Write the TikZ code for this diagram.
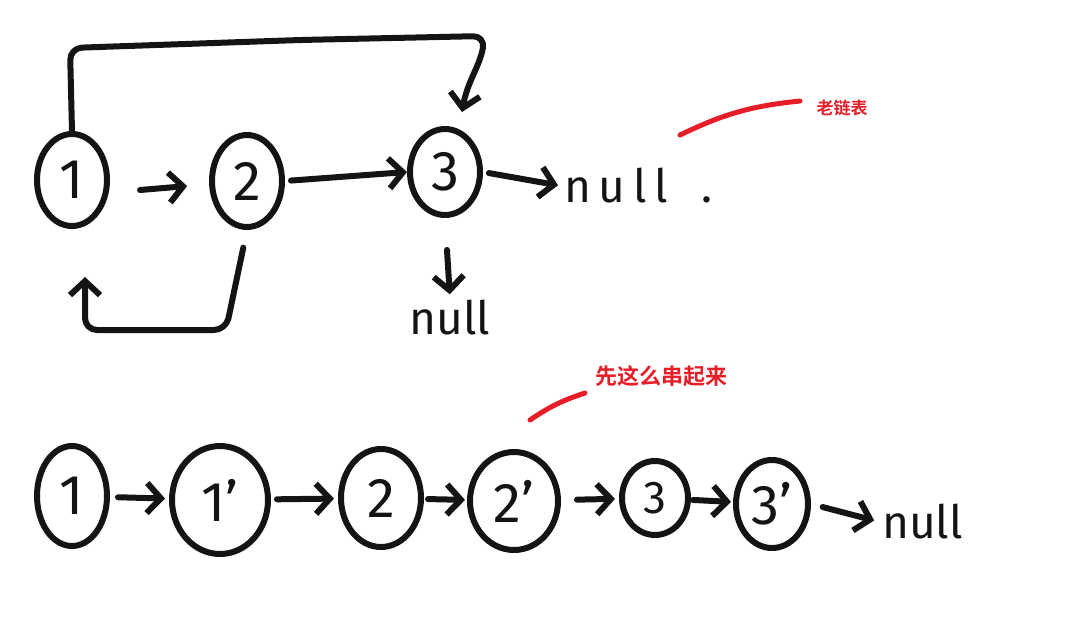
\documentclass[tikz,border=0pt]{standalone}
\usepackage{fontspec}
\setmainfont{Fira Sans}
\newfontfamily\cjk{Noto Sans CJK SC Bold}
\usepackage{xcolor}
\definecolor{ink}{RGB}{ 20,  20,  20}
\definecolor{mark}{RGB}{230,  30,  40}
\usetikzlibrary{shapes.geometric, arrows.meta, positioning}
\tikzset{
  listnode/.style={ellipse, draw=ink, line width=6pt, inner sep=0pt,
    minimum width=70pt, minimum height=92pt,
    font=\fontsize{56}{56}\selectfont, text=ink},
  nulltext/.style={font=\fontsize{46}{46}\selectfont, text=ink, inner sep=2pt},
  link/.style={-{Straight Barb[length=14pt, width=30pt]}, line width=6pt,
    color=ink, line cap=round, line join=round},
  loopline/.style={link, rounded corners=12pt},
  redmark/.style={line width=5pt, color=mark, line cap=round},
  redlabel/.style={font=\cjk\fontsize{17}{17}\selectfont, text=mark, inner sep=1pt}
}
\begin{document}
\begin{tikzpicture}[x=1pt, y=-1pt]
  \useasboundingbox (0,0) rectangle (1074,619);

  % old list
  \node[listnode] (a1) at (72,180) {1};
  \node[listnode] (a2) at (247,181) {2};
  \node[listnode, minimum height=86pt] (a3) at (445,172) {3};
  \node[nulltext, anchor=west] (anull) at (562,186) {n\,u\,l\,l\hspace{34pt}.};
  \node[nulltext] (bnull) at (450,318) {null};

  \draw[link, shorten >=22pt] (140,190) -- (a2);
  \draw[link, shorten <=6pt] (a2.east) -- (a3.west);
  \draw[link, shorten <=6pt, shorten >=4pt] (a3.east) -- (anull.west);
  \draw[link, shorten <=32pt, shorten >=4pt] (a3.south) -- (bnull.north);

  \coordinate (topl) at (70,48);
  \coordinate (topr) at (485,36);
  \coordinate (topend) at (462,112);
  \draw[loopline] (a1.north) -- (topl) -- (300,40) -- (topr)
    to[out=-100, in=80] (topend);
  \coordinate (botr) at (226,330);
  \coordinate (botl) at (85,330);
  \draw[loopline, shorten <=18pt, shorten >=48pt] (a2.south) -- (botr) -- (botl)
    -- (a1.south -| botl);

  \node[redlabel] (oldlist) at (842,108) {老链表};
  \draw[redmark] (680,135) to[bend left=10] (800,101);

  % new list
  \node[listnode, minimum height=100pt] (b1) at (72,496) {1};
  \node[listnode, minimum width=96pt, minimum height=108pt] (b1p) at (220,500) {1'};
  \node[listnode, minimum width=80pt, minimum height=98pt] (b2) at (381,498) {2};
  \node[listnode, minimum width=88pt, minimum height=98pt] (b2p) at (514,501) {2'};
  \node[listnode, minimum width=66pt, minimum height=74pt,
    font=\fontsize{46}{46}\selectfont] (b3) at (655,498) {3};
  \node[listnode, minimum width=72pt, minimum height=88pt] (b3p) at (772,504) {3'};
  \node[nulltext, anchor=west] (cnull) at (880,522) {null};

  \draw[link, shorten <=8pt, shorten >=4pt] (b1) -- (b1p);
  \draw[link, shorten <=6pt, shorten >=4pt] (b1p) -- (b2);
  \draw[link, shorten <=4pt, shorten >=2pt] (b2) -- (b2p);
  \draw[link, shorten <=16pt, shorten >=4pt] (b2p) -- (b3);
  \draw[link, shorten <=2pt, shorten >=2pt] (b3) -- (b3p);
  \draw[link, shorten <=12pt, shorten >=6pt] (b3p.east) -- (cnull.west);

  \node[redlabel, font=\cjk\fontsize{22}{22}\selectfont] (thenchain) at (661,376) {先这么串起来};
  \draw[redmark] (530,420) to[bend left=8] (585,393);
\end{tikzpicture}
\end{document}
